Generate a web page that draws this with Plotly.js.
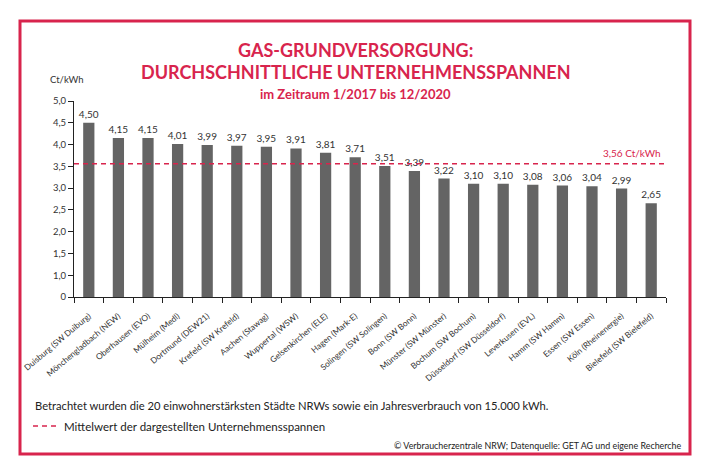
<!DOCTYPE html>
<html><head><meta charset="utf-8">
<script src="https://cdn.plot.ly/plotly-3.0.1.min.js"></script>
<style>html,body{margin:0;padding:0;background:#fff}#c{width:710px;height:473px}</style>
</head><body><div id="c"></div>
<script>
const categories = ["Duisburg (SW Duiburg)","Mönchengladbach (NEW)","Oberhausen (EVO)","Mülheim (Medl)","Dortmund (DEW21)","Krefeld (SW Krefeld)","Aachen (Stawag)","Wuppertal (WSW)","Gelsenkirchen (ELE)","Hagen (Mark-E)","Solingen (SW Solingen)","Bonn (SW Bonn)","Münster (SW Münster)","Bochum (SW Bochum)","Düsseldorf (SW Düsseldorf)","Leverkusen (EVL)","Hamm (SW Hamm)","Essen (SW Essen)","Köln (Rheinenergie)","Bielefeld (SW Bielefeld)"];
const spannen = [4.50,4.15,4.15,4.01,3.99,3.97,3.95,3.91,3.81,3.71,3.51,3.39,3.22,3.10,3.10,3.08,3.06,3.04,2.99,2.65];
const mittelwert = 3.56;
// the reference axis labels its bottom tick "0" one step below "1,0" (no "0,5" tick)
const yTickVals = [0.5,1,1.5,2,2.5,3,3.5,4,4.5,5];
const yTickText = ["0","1,0","1,5","2,0","2,5","3,0","3,5","4,0","4,5","5,0"];

const W=710,H=473,L=74,R=44,T=101,B=176;
const PW=W-L-R, PH=H-T-B;
const px=x=>(x-L)/PW, py=y=>(H-B-y)/PH;
const FONT="Lato, sans-serif";
const RED="#d8244d";

const trace={type:'bar',x:categories,y:spannen,marker:{color:'#646464'},
  text:spannen.map(v=>v.toFixed(2).replace('.',',')),textposition:'outside',constraintext:'none',
  textfont:{family:FONT,size:10,color:'#333'},cliponaxis:true,hoverinfo:'none'};

function ann(text,x,y,size,color,xa){return {text:text,xref:'paper',yref:'paper',x:px(x),y:py(y),xanchor:xa||'center',yanchor:'middle',showarrow:false,font:{family:FONT,size:size,color:color}};}

const layout={width:W,height:H,margin:{l:L,r:R,t:T,b:B},paper_bgcolor:'#fff',plot_bgcolor:'#fff',
  showlegend:false,bargap:0.62,font:{family:FONT,color:'#333'},
  xaxis:{tickangle:-40,tickfont:{family:FONT,size:8.3,color:'#333'},showline:true,linecolor:'#222',linewidth:1,
    ticks:'outside',tickson:'boundaries',ticklen:5,tickcolor:'#222',ticklabelstandoff:10,showgrid:false,zeroline:false,automargin:false},
  yaxis:{range:[0.5,5],tickvals:yTickVals,ticktext:yTickText,tickfont:{family:FONT,size:9.5,color:'#333'},
    showline:true,linecolor:'#222',linewidth:1,ticks:'outside',ticklen:5,tickcolor:'#222',showgrid:false,zeroline:false,automargin:false},
  shapes:[
    {type:'line',xref:'paper',yref:'y',x0:0,x1:1,y0:mittelwert,y1:mittelwert,line:{color:RED,width:1.5,dash:'5px,4px'}},
    {type:'rect',xref:'paper',yref:'paper',x0:px(20),x1:px(690),y0:py(21),y1:py(454),line:{color:RED,width:3}},
    {type:'line',xref:'paper',yref:'paper',x0:px(33),x1:px(58),y0:py(426),y1:py(426),line:{color:RED,width:1.5,dash:'5px,4px'}}
  ],
  annotations:[
    ann('<b>GAS-GRUNDVERSORGUNG:</b>',355,50,18,RED),
    ann('<b>DURCHSCHNITTLICHE UNTERNEHMENSSPANNEN</b>',356,72,18,RED),
    ann('<b>im Zeitraum 1/2017 bis 12/2020</b>',355,94,13,RED),
    ann('Ct/kWh',48,80,9.5,'#333','left'),
    {text:'3,56 Ct/kWh',xref:'paper',yref:'y',x:px(663),y:mittelwert,xanchor:'right',yanchor:'bottom',yshift:3,showarrow:false,font:{family:FONT,size:10,color:RED}},
    ann('Betrachtet wurden die 20 einwohnerstärksten Städte NRWs sowie ein Jahresverbrauch von 15.000 kWh.',33,405,11.2,'#222','left'),
    ann('Mittelwert der dargestellten Unternehmensspannen',62,426,11.5,'#222','left'),
    ann('© Verbraucherzentrale NRW; Datenquelle: GET AG und eigene Recherche',684,445,8.9,'#222','right')
  ]};
Plotly.newPlot('c',[trace],layout,{displayModeBar:false,staticPlot:true});
</script></body></html>
